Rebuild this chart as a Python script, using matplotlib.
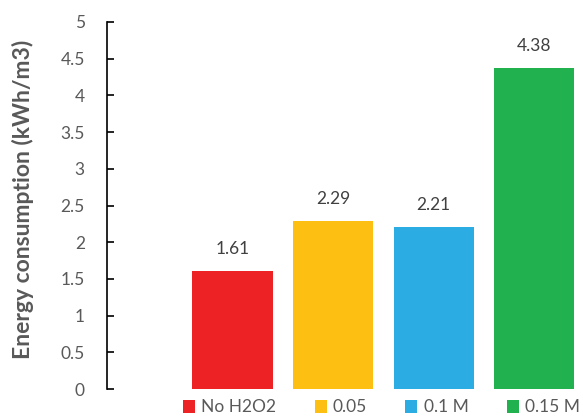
import matplotlib
matplotlib.use("Agg")
import matplotlib.pyplot as plt
from matplotlib.patches import Patch

plt.rcParams['font.family'] = ['Lato', 'DejaVu Sans']

categories = ["No H2O2", "0.05", "0.1 M", "0.15 M"]
values = [1.61, 2.29, 2.21, 4.38]
colors = ["#ED2224", "#FCBF12", "#2BACE3", "#21B24F"]
yticks = [0, 0.5, 1, 1.5, 2, 2.5, 3, 3.5, 4, 4.5, 5]
ytick_labels = ["0", "0.5", "1", "1.5", "2", "2.5", "3", "3.5", "4", "4.5", "5"]

W, H = 583, 417
fig = plt.figure(figsize=(W / 100, H / 100), dpi=100)
ax = fig.add_axes([107 / W, 28 / H, (584.5 - 107) / W, (389 - 22) / H])

x = [1, 2, 3, 4]
ax.bar(x, values, width=0.8, color=colors)
for xi, v in zip(x, values):
    ax.annotate(f"{v:.2f}", (xi, v), xytext=(0, 10), textcoords="offset points",
                ha="center", va="bottom", fontsize=12.5, color="#404040")

ax.set_xlim(-0.25, 4.5)
ax.set_ylim(0, 5)
ax.set_yticks(yticks)
ax.set_yticklabels(ytick_labels)
ax.set_xticks([])
for s in ["top", "right", "bottom"]:
    ax.spines[s].set_visible(False)
ax.spines["left"].set_color("#000000")
ax.spines["left"].set_linewidth(1.2)
ax.tick_params(axis="y", direction="in", length=5, width=1.2, color="#000000",
               labelsize=12.5, labelcolor="#595959", pad=16)
ax.set_ylabel("Energy consumption (kWh/m3)", fontsize=16.5, fontweight="bold",
              color="#595959")
ax.yaxis.set_label_coords(-73 / (584.5 - 107), (389 - 199.5) / 367)

handles = [Patch(facecolor=c, edgecolor="none") for c in colors]
fig.legend(handles, categories, loc="center", bbox_to_anchor=(381.5 / W, 1 - 407.5 / H),
           ncol=4, frameon=False, fontsize=12.5, labelcolor="#595959",
           handlelength=0.7, handleheight=0.7, handletextpad=0.35, columnspacing=2.2,
           borderpad=0, borderaxespad=0)

fig.savefig("out.png", dpi=100)
